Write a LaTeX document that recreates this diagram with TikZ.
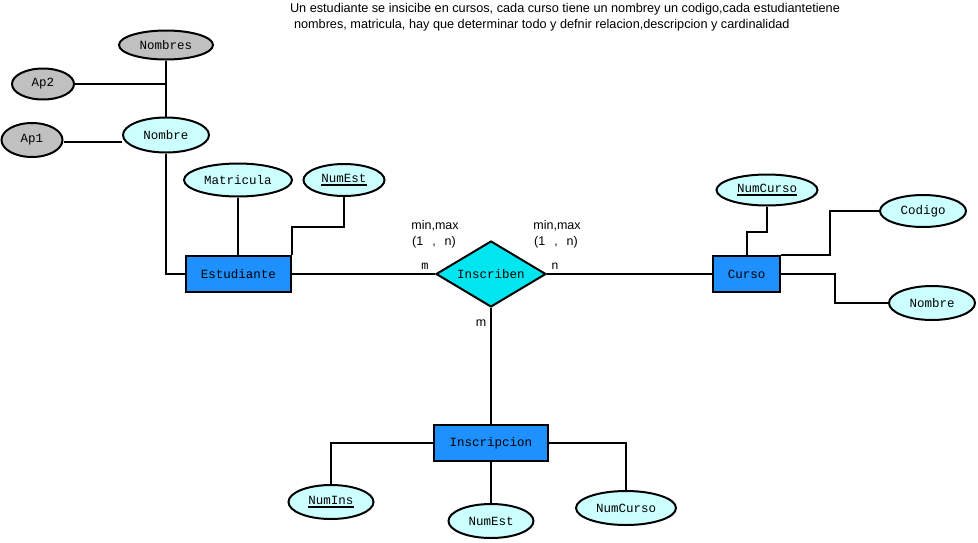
\documentclass[tikz,border=0pt]{standalone}
\usepackage{fontspec}
\setmainfont{Liberation Sans}
\newfontfamily\monofam{Liberation Mono}
\usetikzlibrary{shapes.geometric}
\definecolor{entblue}{RGB}{30,144,255}
\definecolor{attrcyan}{RGB}{204,255,255}
\definecolor{attrgray}{RGB}{192,192,192}
\definecolor{relcyan}{RGB}{0,230,240}
% key attribute: text with a heavy underline
\newcommand\keyattr[1]{\vtop{\hbox{#1}\kern1.2pt\hrule height 1.6pt}}
\begin{document}
\begin{tikzpicture}[x=1pt,y=-1pt,line width=2pt,
  entity/.style={draw,fill=entblue,rectangle,inner sep=0pt,
    font=\monofam\fontsize{12.5}{14}\selectfont},
  attr/.style={draw,fill=attrcyan,ellipse,inner sep=0pt,
    font=\monofam\fontsize{12.5}{14}\selectfont},
  subattr/.style={attr,fill=attrgray},
  rel/.style={draw,fill=relcyan,diamond,inner sep=0pt,aspect=1.65,
    font=\monofam\fontsize{12.5}{14}\selectfont},
  note/.style={inner sep=0pt,anchor=west,font=\fontsize{12.7}{14}\selectfont},
  label/.style={inner sep=0pt,font=\fontsize{12.5}{14}\selectfont},
  card/.style={inner sep=0pt,font=\monofam\fontsize{12}{13}\selectfont},
  conn/.style={line width=2pt}]
\useasboundingbox (0,0) rectangle (978,542);
\fill[white] (0,0) rectangle (978,542);

% statement
\node[note] (stmt1) at (289,9) {Un estudiante se insicibe en cursos, cada curso tiene un nombrey un codigo,cada estudiantetiene};
\node[note] (stmt2) at (293,25) {nombres, matricula, hay que determinar todo y defnir relacion,descripcion y cardinalidad};

% entities
\node[entity,minimum width=105pt,minimum height=36pt] (est) at (238.5,274) {Estudiante};
\node[entity,minimum width=67pt,minimum height=36pt] (curso) at (746.5,274) {Curso};
\node[entity,minimum width=114pt,minimum height=36pt] (insc) at (491,443) {Inscripcion};

% relationship
\node[rel,minimum width=110pt,minimum height=66pt] (rel) at (491,274) {Inscriben};

% attributes of Estudiante
\node[subattr,minimum width=94pt,minimum height=29pt] (nombres) at (166,45) {Nombres};
\node[subattr,minimum width=62pt,minimum height=31pt] (ap2) at (43,84) {Ap2};
\node[subattr,minimum width=61pt,minimum height=34pt] (ap1) at (32,140) {Ap1};
\node[attr,minimum width=86pt,minimum height=35pt] (nombre) at (166,135) {Nombre};
\node[attr,minimum width=108pt,minimum height=33pt] (matr) at (238,180) {Matricula};
\node[attr,minimum width=81pt,minimum height=32pt] (numest) at (344,180) {\keyattr{NumEst}};

% attributes of Curso
\node[attr,minimum width=101pt,minimum height=31pt] (numcurso) at (767,190) {\keyattr{NumCurso}};
\node[attr,minimum width=86pt,minimum height=32pt] (codigo) at (923,211) {Codigo};
\node[attr,minimum width=86pt,minimum height=34pt] (cnombre) at (932,303) {Nombre};

% attributes of Inscripcion
\node[attr,minimum width=85pt,minimum height=34pt] (numins) at (331,502) {\keyattr{NumIns}};
\node[attr,minimum width=85pt,minimum height=34pt] (inumest) at (491,521) {NumEst};
\node[attr,minimum width=100pt,minimum height=34pt] (inumcurso) at (626,508) {NumCurso};

% cardinality labels
\node[label] (mm1) at (435,226) {min,max};
\node[label] (cc1) at (434,242) {(1\hspace{9pt},\hspace{9pt}n)};
\node[label] (mm2) at (557,226) {min,max};
\node[label] (cc2) at (556,242) {(1\hspace{9pt},\hspace{9pt}n)};
\node[card] (cm) at (425,266) {m};
\node[card] (cn) at (555,266) {n};
\node[label] (cm2) at (481,323) {m};

% connectors
\begin{scope}[conn]
\draw (nombres.south) -- (nombre.north);
\draw (ap2.east) -- (ap2.east -| nombres.south);
\draw (ap1.east) ++(0,2) coordinate (ap1e) -- (ap1e -| nombre.west);
\draw (nombre.south) |- (est.west);
\draw (matr.south) -- (matr.south |- est.north);
\draw (numest.south) -- ++(0,30) -| (est.north east);
\draw (est.east) -- (rel.west);
\draw (rel.east) -- (curso.west);
\draw (rel.south) -- (insc.north);
\draw (numcurso.south) -- ++(0,25) -| (curso.north);
\draw (curso.north east) -- ++(49,0) |- (codigo.west);
\draw (curso.east) -- ++(54,0) |- (cnombre.west);
\draw (insc.west) -| (numins.north);
\draw (insc.south) -- (inumest.north);
\draw (insc.east) -| (inumcurso.north);
\end{scope}
\end{tikzpicture}
\end{document}
